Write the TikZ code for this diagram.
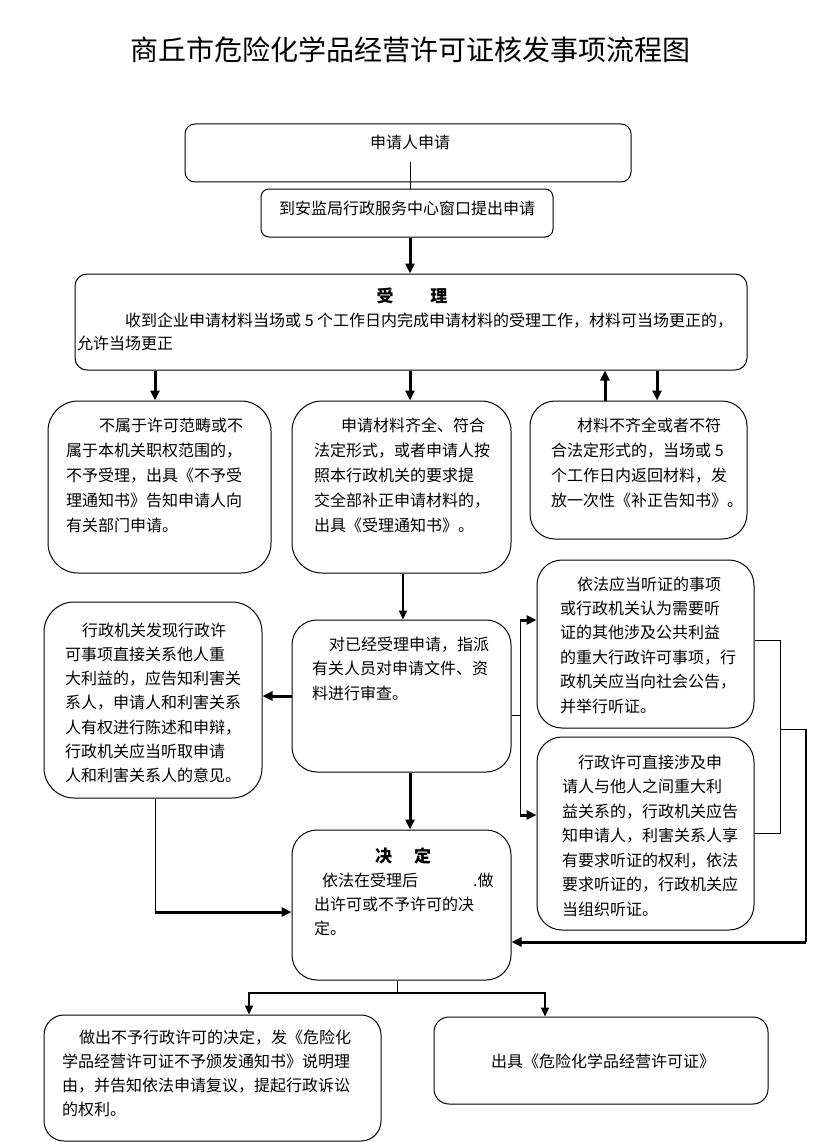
\documentclass[tikz,border=0pt]{standalone}
\usepackage{fontspec}
\setmainfont{Noto Sans CJK SC}
\usetikzlibrary{arrows.meta,calc}
\begin{document}
\begin{tikzpicture}[x=1pt,y=-1pt,
 box/.style={draw, line width=1pt, rounded corners=#1, inner sep=0pt},
 box/.default=10pt,
 txt/.style={inner sep=0pt, align=left, anchor=base west, font=\fontsize{16}{#1}\selectfont},
 txt/.default=25pt,
 head/.style={inner sep=0pt, font=\fontsize{17}{17}\selectfont\bfseries},
 ln/.style={line width=1pt},
 thk/.style={line width=3pt, -{Triangle[length=10pt,width=9pt]}},
 med/.style={line width=2pt, -{Triangle[length=9pt,width=8pt]}},
]
\useasboundingbox (0,0) rectangle (819,1142);

\node[inner sep=0pt, font=\fontsize{28}{28}\selectfont] (title) at (410,50) {商丘市危险化学品经营许可证核发事项流程图};

% boxes (multi-line texts are placed by the baseline of their last line)
\node[box=10pt, minimum width=446pt, minimum height=58pt] (A) at (408,153) {};
\node[txt, anchor=base] (At) at (410,149) {申请人申请};

\node[box=8pt, minimum width=292pt, minimum height=48pt] (B) at (407,213) {};
\node[txt, anchor=base] (Bt) at (407,214) {到安监局行政服务中心窗口提出申请};

\node[box=12pt, minimum width=672pt, minimum height=96pt] (C) at (411,322) {};
\node[head] (Ch) at (412,296) {受\hspace{37pt}理};
\node[txt=23.5pt] (Ct) at (77,349.5) {\hspace*{48pt}收到企业申请材料当场或 5 个工作日内完成申请材料的受理工作，材料可当场更正的，\\允许当场更正};

\node[box=30pt, minimum width=223pt, minimum height=172pt] (D) at (159.5,487) {};
\node[txt] (Dt) at (66,531) {\hspace*{33pt}不属于许可范畴或不\\属于本机关职权范围的，\\不予受理，出具《不予受\\理通知书》告知申请人向\\有关部门申请。};

\node[box=30pt, minimum width=219pt, minimum height=172pt] (E) at (401.5,487) {};
\node[txt] (Et) at (314,531) {\hspace*{27pt}申请材料齐全、符合\\法定形式，或者申请人按\\照本行政机关的要求提\\交全部补正申请材料的，\\出具《受理通知书》。};

\node[box=25pt, minimum width=217pt, minimum height=138pt] (F) at (638.5,470) {};
\node[txt] (Ft) at (551,506) {\hspace*{26pt}材料不齐全或者不符\\合法定形式的，当场或 5\\个工作日内返回材料，发\\放一次性《补正告知书》。};

\node[box=30pt, minimum width=218pt, minimum height=196pt] (G) at (153,700) {};
\node[txt=24.3pt] (Gt) at (65,781.8) {\hspace*{17pt}行政机关发现行政许\\可事项直接关系他人重\\大利益的，应告知利害关\\系人，申请人和利害关系\\人有权进行陈述和申辩，\\行政机关应当听取申请\\人和利害关系人的意见。};

\node[box=25pt, minimum width=219pt, minimum height=152pt] (H) at (401.5,696) {};
\node[txt=24.5pt] (Ht) at (312,699) {\hspace*{17pt}对已经受理申请，指派\\有关人员对申请文件、资\\料进行审查。};

\node[box=25pt, minimum width=217pt, minimum height=168pt] (I) at (645.5,644) {};
\node[txt=24.4pt] (It) at (560,712) {\hspace*{17pt}依法应当听证的事项\\或行政机关认为需要听\\证的其他涉及公共利益\\的重大行政许可事项，行\\政机关应当向社会公告，\\并举行听证。};

\node[box=25pt, minimum width=217pt, minimum height=193pt] (J) at (645.5,833.5) {};
\node[txt=24.5pt] (Jt) at (562,915) {\hspace*{16pt}行政许可直接涉及申\\请人与他人之间重大利\\益关系的，行政机关应告\\知申请人，利害关系人享\\有要求听证的权利，依法\\要求听证的，行政机关应\\当组织听证。};

\node[box=25pt, minimum width=219pt, minimum height=150pt] (K) at (401.5,905) {};
\node[head] (Kh) at (403,856) {决\hspace{22pt}定};
\node[txt=24pt] (Kt) at (314,934) {\hspace*{8pt}依法在受理后\hspace{55pt}.做\\出许可或不予许可的决\\定。};

\node[box=20pt, minimum width=337pt, minimum height=126pt] (L) at (212.5,1078) {};
\node[txt=24.3pt] (Lt) at (62,1115.9) {\hspace*{17pt}做出不予行政许可的决定，发《危险化\\学品经营许可证不予颁发通知书》说明理\\由，并告知依法申请复议，提起行政诉讼\\的权利。};

\node[box=15pt, minimum width=334pt, minimum height=87pt] (M) at (601,1060.5) {};
\node[txt, anchor=base] (Mt) at (603,1067) {出具《危险化学品经营许可证》};

% helper coordinates
\coordinate (a1) at (410,162);
\coordinate (xd) at (155,0);
\coordinate (xf1) at (605,0);
\coordinate (xf2) at (657,0);
\coordinate (xe) at (403,0);
\coordinate (hj) at (520,715);
\coordinate (hjI) at (520,620);
\coordinate (hjJ) at (520,815);
\coordinate (r1) at (780,640);
\coordinate (r2) at (780,833);
\coordinate (r3) at (780,729);
\coordinate (r4) at (806,729);
\coordinate (r5) at (806,942);
\coordinate (g1) at (155,912);
\coordinate (k1) at (397,993);
\coordinate (k2) at (249,993);
\coordinate (k3) at (545,993);

% connectors
\draw[ln] (a1) -- (a1 |- B.north);
\draw[thk] (B.south -| a1) -- (C.north -| a1);
\draw[thk] (C.south -| xd) -- (D.north -| xd);
\draw[thk] (C.south -| a1) -- (E.north -| a1);
\draw[thk] (F.north -| xf1) -- (C.south -| xf1);
\draw[thk] (C.south -| xf2) -- (F.north -| xf2);
\draw[med] (E.south -| xe) -- (H.north -| xe);
\draw[thk] (H.west) -- (H.west -| G.east);
\draw[thk] (H.south -| a1) -- (K.north -| a1);
\draw[ln] (H.east |- hj) -- (hj);
\draw[ln] (hjI) -- (hjJ);
\draw[thk] (hjI) -- (hjI -| I.west);
\draw[thk] (hjJ) -- (hjJ -| J.west);
\draw[ln] (I.east |- r1) -- (r1) -- (r2) -- (J.east |- r2);
\draw[ln] (r3) -- (r4);
\draw[line width=1.5pt] (r4) -- (r5);
\draw[thk] (r5) -- (K.east |- r5);
\draw[ln] (G.south -| g1) -- (g1);
\draw[thk] (g1) -- (K.west |- g1);
\draw[ln] (K.south -| k1) -- (k1);
\draw[line width=2pt, line cap=rect] (k2) -- (k3);
\draw[med] (k2) -- (L.north -| k2);
\draw[med] (k3) -- (M.north -| k3);
\end{tikzpicture}
\end{document}
